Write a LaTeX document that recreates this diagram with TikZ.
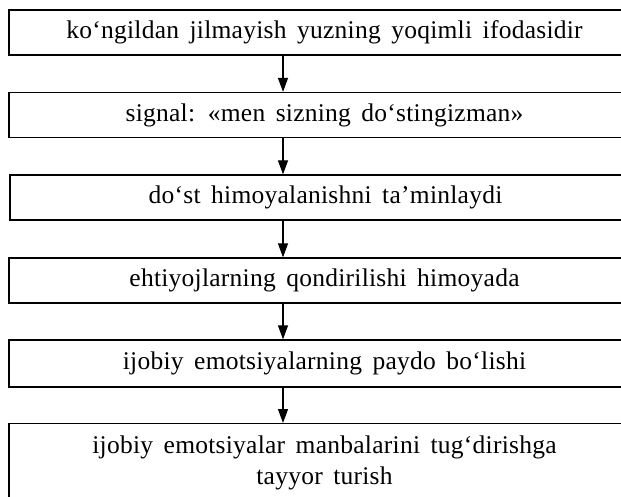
\documentclass[tikz,border=0pt]{standalone}
\usepackage{fontspec}
\setmainfont{Liberation Serif}[LetterSpace=1]
\usetikzlibrary{arrows.meta}
\newcommand{\boxfont}{\fontsize{25.5}{31}\selectfont\spaceskip=10.5pt plus 2pt minus 1pt\relax}
\tikzset{
  box/.style={draw, line width=1.3pt, minimum width=631pt, minimum height=45pt,
    inner sep=0pt, font=\boxfont, align=center},
  flow/.style={line width=1.2pt, -{Triangle[length=14pt,width=10pt]}},
}
\begin{document}
\begin{tikzpicture}[x=1pt,y=-1pt]
  \useasboundingbox (0,0) rectangle (621,496);
  \clip (0,0) rectangle (621,496);
  \node[box] (b1) at (324.5,32.5) {ko‘ngildan jilmayish yuzning yoqimli ifodasidir};
  \node[box] (b2) at (324.5,115) {signal: «men sizning do‘stingizman»};
  \node[box] (b3) at (325.5,197.5) {do‘st himoyalanishni ta’minlaydi};
  \node[box] (b4) at (324.5,280.5) {ehtiyojlarning qondirilishi himoyada};
  \node[box, minimum height=47pt] (b5) at (324.5,363.5) {ijobiy emotsiyalarning paydo bo‘lishi};
  \node[box, minimum height=100pt, anchor=north] (b6) at (324.5,423) {};
  \node[font=\boxfont, align=center] (t6) at (324.5,463)
    {ijobiy emotsiyalar manbalarini tug‘dirishga\\tayyor turish};
  \coordinate (col) at (283,0);
  \draw[flow] (b1.south -| col) -- (b2.north -| col);
  \draw[flow] (b2.south -| col) -- (b3.north -| col);
  \draw[flow] (b3.south -| col) -- (b4.north -| col);
  \draw[flow] (b4.south -| col) -- (b5.north -| col);
  \draw[flow] (b5.south -| col) -- (b6.north -| col);
\end{tikzpicture}
\end{document}
